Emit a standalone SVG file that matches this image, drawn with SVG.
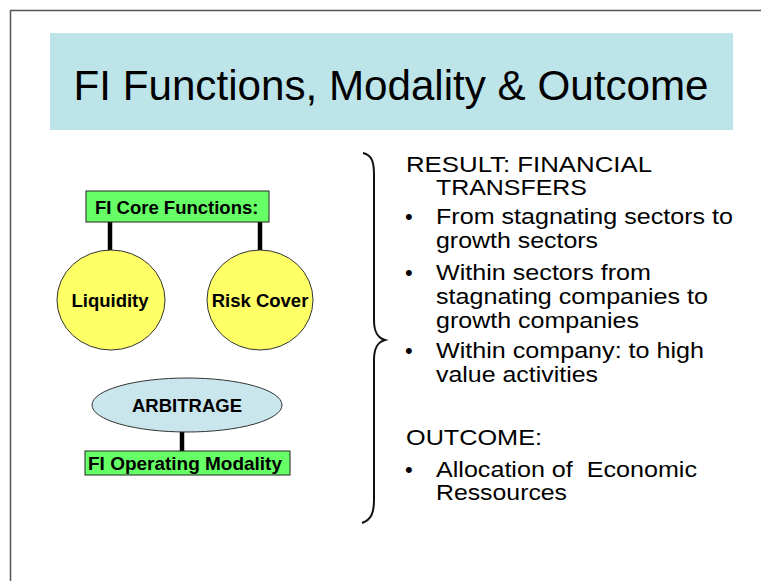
<svg xmlns="http://www.w3.org/2000/svg" width="761" height="581" viewBox="0 0 761 581">
<style>
.t{font-family:"Liberation Sans",Arial,sans-serif;fill:#000}
.b{font-weight:bold;font-size:18.5px}
.r{font-size:22px}
.conn{stroke:#000;stroke-width:4.5;fill:none}
.box{fill:#66ff66;stroke:#222;stroke-width:1}
.circ{fill:#ffff66;stroke:#333;stroke-width:1}
</style>
<rect x="0" y="0" width="761" height="581" fill="#fff"/>
<path d="M10.5,581 V10.5 H761" fill="none" stroke="#555" stroke-width="1.5"/>
<g id="title">
<rect x="50" y="33" width="683" height="97" fill="#bde4e9"/>
<text class="t" x="391" y="100" font-size="43" text-anchor="middle" textLength="635" lengthAdjust="spacingAndGlyphs">FI Functions, Modality &amp; Outcome</text>
</g>
<g id="connectors">
<line class="conn" x1="110" y1="222" x2="110" y2="251"/>
<line class="conn" x1="260" y1="222" x2="260" y2="251"/>
<line class="conn" x1="182" y1="432" x2="182" y2="452"/>
</g>
<g id="core">
<rect class="box" x="86" y="191" width="183" height="31"/>
<text class="t b" x="95" y="214">FI Core Functions:</text>
</g>
<g id="liquidity">
<ellipse class="circ" cx="111" cy="300" rx="54" ry="50"/>
<text class="t b" x="110" y="307" text-anchor="middle">Liquidity</text>
</g>
<g id="risk">
<ellipse class="circ" cx="260" cy="300" rx="53" ry="50"/>
<text class="t b" x="260" y="307" text-anchor="middle">Risk Cover</text>
</g>
<g id="arbitrage">
<ellipse cx="187" cy="405" rx="95" ry="27" fill="#c9e6ec" stroke="#333" stroke-width="1"/>
<text class="t b" x="187" y="412" text-anchor="middle" font-size="17.6">ARBITRAGE</text>
</g>
<g id="modality">
<rect class="box" x="85" y="451" width="205" height="24"/>
<text class="t b" x="185" y="470" text-anchor="middle" textLength="194" lengthAdjust="spacingAndGlyphs">FI Operating Modality</text>
</g>
<g id="brace">
<path d="M363,153 C372,155 374,162 374,175 V320 C374,333 378,338 385,340 C378,342 374,347 374,360 V500 C374,513 371,520 362,523" fill="none" stroke="#111" stroke-width="2"/>
</g>
<g id="result">
<text class="t r" x="406" y="172" textLength="246" lengthAdjust="spacingAndGlyphs">RESULT: FINANCIAL</text>
<text class="t r" x="436" y="195" textLength="151" lengthAdjust="spacingAndGlyphs">TRANSFERS</text>
<text class="t r" x="405" y="224">•</text>
<text class="t r" x="436" y="224" textLength="297" lengthAdjust="spacingAndGlyphs">From stagnating sectors to</text>
<text class="t r" x="436" y="248" textLength="162" lengthAdjust="spacingAndGlyphs">growth sectors</text>
<text class="t r" x="405" y="280">•</text>
<text class="t r" x="436" y="280" textLength="215" lengthAdjust="spacingAndGlyphs">Within sectors from</text>
<text class="t r" x="436" y="304" textLength="272" lengthAdjust="spacingAndGlyphs">stagnating companies to</text>
<text class="t r" x="436" y="328" textLength="203" lengthAdjust="spacingAndGlyphs">growth companies</text>
<text class="t r" x="405" y="358">•</text>
<text class="t r" x="436" y="358" textLength="268" lengthAdjust="spacingAndGlyphs">Within company: to high</text>
<text class="t r" x="436" y="382" textLength="162" lengthAdjust="spacingAndGlyphs">value activities</text>
<text class="t r" x="406" y="445" textLength="136" lengthAdjust="spacingAndGlyphs">OUTCOME:</text>
<text class="t r" x="405" y="477">•</text>
<text class="t r" x="436" y="477" xml:space="preserve" textLength="261" lengthAdjust="spacingAndGlyphs">Allocation of  Economic</text>
<text class="t r" x="436" y="500" textLength="131" lengthAdjust="spacingAndGlyphs">Ressources</text>
</g>
</svg>
